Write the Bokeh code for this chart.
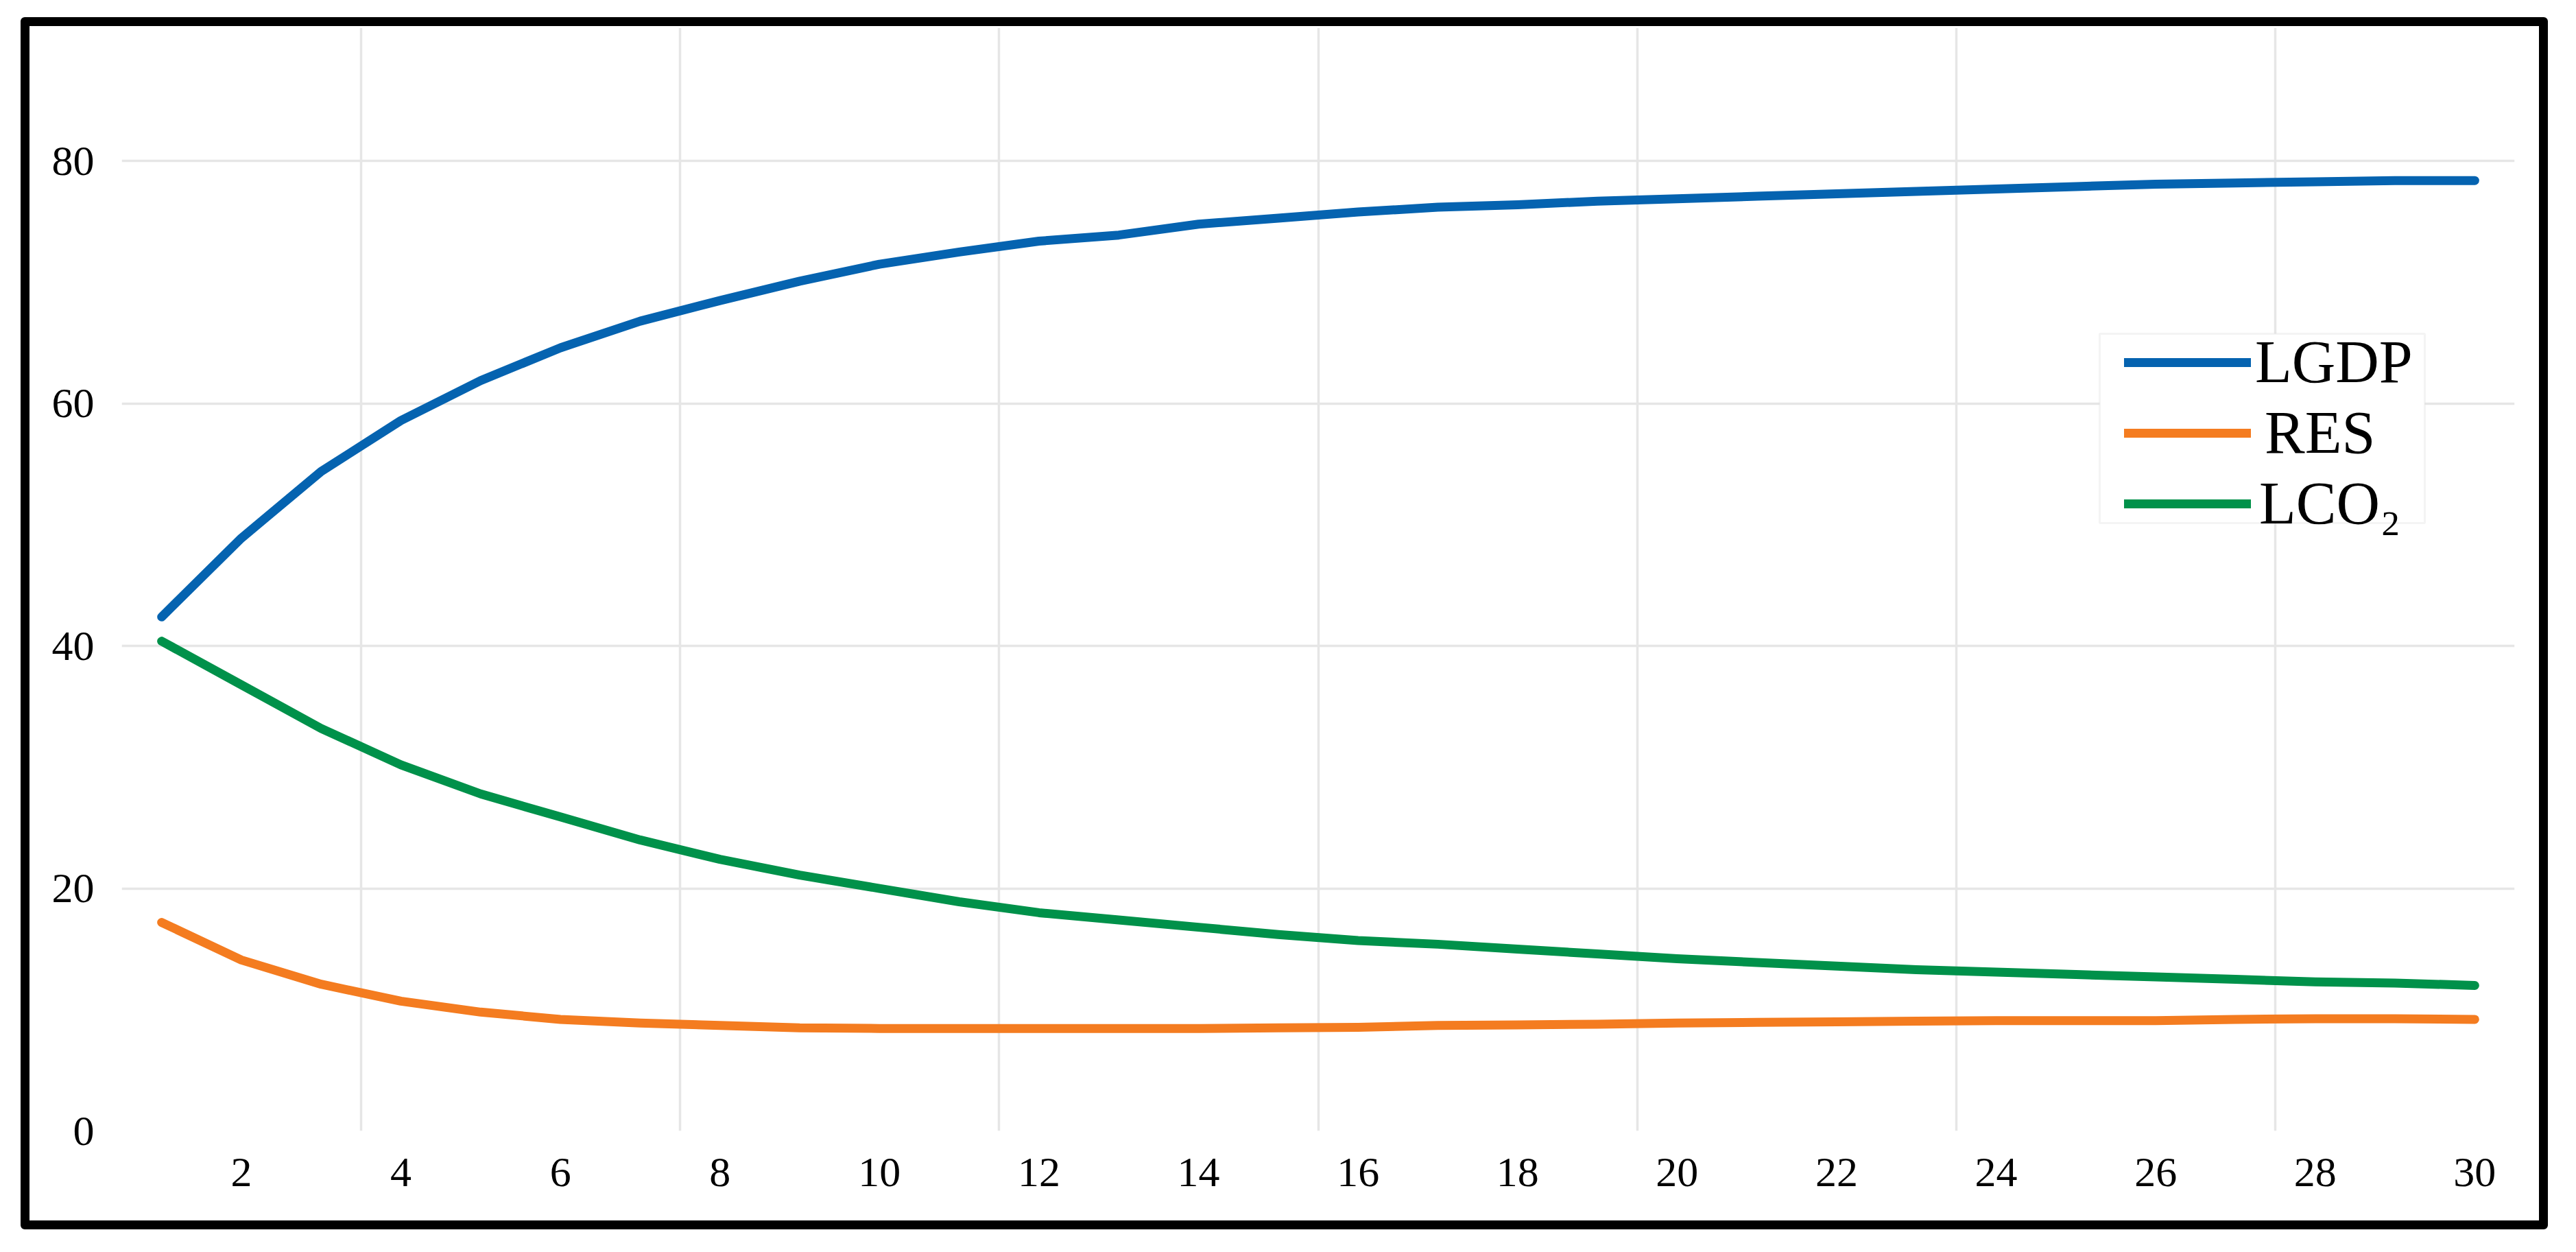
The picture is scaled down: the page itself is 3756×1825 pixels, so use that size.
from bokeh.plotting import figure
from bokeh.models import Range1d, FixedTicker, Legend, LegendItem, BoxAnnotation
from bokeh.embed import file_html
from bokeh.resources import INLINE

# ---- data ----
periods = list(range(1, 31))
lgdp = [42.4, 48.9, 54.4, 58.6, 61.9, 64.6, 66.8, 68.5, 70.1, 71.5,
        72.5, 73.4, 73.9, 74.8, 75.3, 75.8, 76.2, 76.4, 76.7, 76.9,
        77.1, 77.3, 77.5, 77.7, 77.9, 78.1, 78.2, 78.3, 78.4, 78.4]
res = [17.2, 14.1, 12.1, 10.7, 9.8, 9.2, 8.9, 8.7, 8.5, 8.45,
       8.45, 8.45, 8.45, 8.45, 8.5, 8.55, 8.7, 8.75, 8.8, 8.9,
       8.95, 9.0, 9.05, 9.1, 9.1, 9.1, 9.2, 9.25, 9.25, 9.2]
lco2 = [40.4, 36.8, 33.2, 30.2, 27.8, 25.9, 24.0, 22.4, 21.1, 20.0,
        18.9, 18.0, 17.4, 16.8, 16.2, 15.7, 15.4, 15.0, 14.6, 14.2,
        13.9, 13.6, 13.3, 13.1, 12.9, 12.7, 12.5, 12.3, 12.2, 12.0]
series_names = ["LGDP", "RES", "LCO\u2082"]
x_ticks = list(range(2, 31, 2))
y_ticks = [0, 20, 40, 60, 80]
x_grid = [3.5, 7.5, 11.5, 15.5, 19.5, 23.5, 27.5]
y_grid = [20, 40, 60, 80]

colors = ["#0563B0", "#F47C20", "#00914A"]
FONT = "Liberation Serif"

X0, X1 = 0.5, 30.5
Y0, Y1 = 0, 91
W, H = 3685, 1767
MB_L, MB_R, MB_T, MB_B = 134, 62, 2, 157

p = figure(width=W, height=H, output_backend="svg", toolbar_location=None,
           x_range=Range1d(X0, X1), y_range=Range1d(Y0, Y1),
           min_border_left=MB_L, min_border_right=MB_R,
           min_border_top=MB_T, min_border_bottom=MB_B)
p.margin = (25, 0, 0, 30)
p.styles = {"border": "13px solid black", "border-radius": "6px", "overflow": "hidden"}
p.background_fill_color = "white"
p.border_fill_color = "white"
p.outline_line_color = None

# axes
for ax in (p.xaxis[0], p.yaxis[0]):
    ax.axis_line_color = None
    ax.major_tick_line_color = None
    ax.minor_tick_line_color = None
    ax.major_tick_out = 0
    ax.major_tick_in = 0
    ax.minor_tick_out = 0
    ax.major_label_text_font = FONT
    ax.major_label_text_font_size = "62px"
    ax.major_label_text_color = "black"
    ax.major_label_standoff = 40
p.xaxis.ticker = FixedTicker(ticks=x_ticks)
p.yaxis.ticker = FixedTicker(ticks=y_ticks)

p.xgrid.ticker = FixedTicker(ticks=x_grid)
p.ygrid.ticker = FixedTicker(ticks=y_grid)
p.xgrid.grid_line_color = "#e6e6e6"
p.ygrid.grid_line_color = "#e6e6e6"
p.xgrid.grid_line_width = 3.5
p.ygrid.grid_line_width = 3.5

r1 = p.line(periods, lgdp, line_color=colors[0], line_width=13, line_cap="round", line_join="round")
r2 = p.line(periods, res, line_color=colors[1], line_width=13, line_cap="round", line_join="round")
r3 = p.line(periods, lco2, line_color=colors[2], line_width=13, line_cap="round", line_join="round")

# legend frame (pixel layout converted to the plot's own scale)
frame_w = W - MB_L - MB_R
frame_h = H - MB_T - MB_B
def fx(px):   # px measured from the frame's left edge
    return X0 + px * (X1 - X0) / frame_w
def fy(py):   # py measured from the frame's bottom edge
    return Y0 + py * (Y1 - Y0) / frame_h

legend_box = BoxAnnotation(left=fx(2884), right=fx(3358), bottom=fy(886), top=fy(1162),
                           fill_color="white", fill_alpha=1,
                           line_color="#d9d9d9", line_width=3)
p.add_layout(legend_box)

rows = [(r1, series_names[0], 1070, 6),
        (r2, series_names[1], 967, 20),
        (r3, series_names[2], 864, 12)]
for rend, name, ypos, standoff in rows:
    lg = Legend(items=[LegendItem(label=name, renderers=[rend])],
                location=(2920, ypos),
                label_text_font=FONT, label_text_font_size="88px",
                label_text_color="black",
                glyph_width=185, glyph_height=30, label_standoff=standoff,
                label_height=30, spacing=0, padding=0, margin=0,
                border_line_color=None, background_fill_alpha=0)
    p.add_layout(lg, "center")

open("out.html", "w").write(file_html(p, INLINE))
